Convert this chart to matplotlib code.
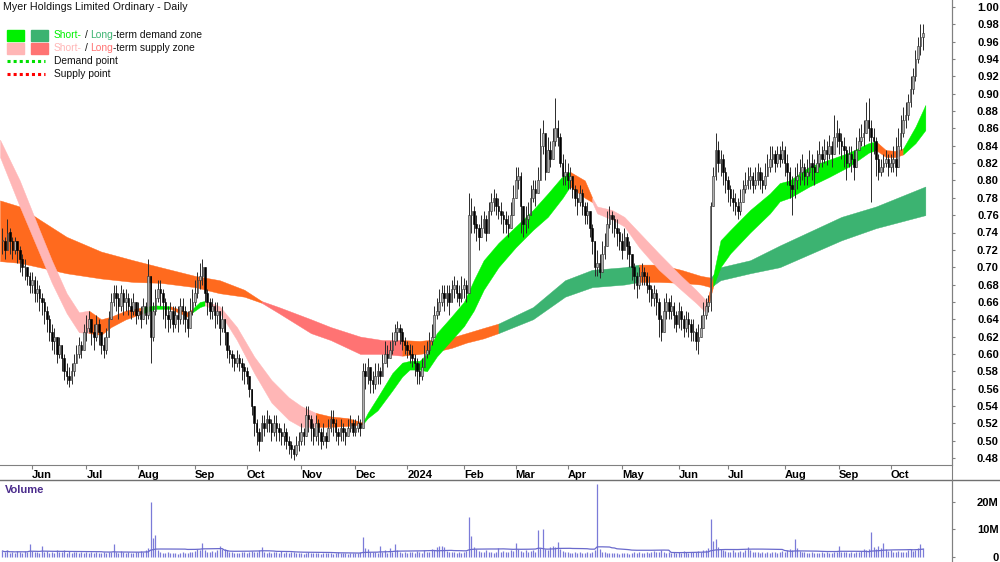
import numpy as np
import pandas as pd
import matplotlib
matplotlib.use("Agg")
import matplotlib.pyplot as plt
from matplotlib.lines import Line2D
from matplotlib.patches import Rectangle

# ---- daily prices (16 May 2023 .. 17 Oct 2024)
close = [
    0.730, 0.720, 0.740, 0.730, 0.720, 0.730, 0.720, 0.710, 0.700, 0.700,
    0.690, 0.680, 0.685, 0.670, 0.675, 0.665, 0.660, 0.650, 0.640, 0.625,
    0.615, 0.620, 0.600, 0.610, 0.595, 0.580, 0.575, 0.570, 0.580, 0.590,
    0.600, 0.610, 0.605, 0.625, 0.630, 0.640, 0.625, 0.620, 0.635, 0.625,
    0.610, 0.605, 0.620, 0.640, 0.660, 0.670, 0.665, 0.655, 0.670, 0.660,
    0.665, 0.655, 0.650, 0.660, 0.645, 0.650, 0.640, 0.655, 0.645, 0.690,
    0.620, 0.650, 0.665, 0.675, 0.670, 0.660, 0.645, 0.640, 0.650, 0.635,
    0.645, 0.640, 0.655, 0.650, 0.640, 0.630, 0.650, 0.660, 0.670, 0.685,
    0.690, 0.700, 0.670, 0.660, 0.650, 0.655, 0.645, 0.650, 0.630, 0.640,
    0.625, 0.605, 0.600, 0.595, 0.590, 0.595, 0.590, 0.585, 0.580, 0.575,
    0.560, 0.540, 0.520, 0.510, 0.500, 0.520, 0.515, 0.525, 0.520, 0.510,
    0.520, 0.515, 0.510, 0.505, 0.510, 0.500, 0.495, 0.490, 0.485, 0.495,
    0.500, 0.510, 0.505, 0.530, 0.525, 0.515, 0.505, 0.520, 0.510, 0.500,
    0.505, 0.500, 0.515, 0.525, 0.520, 0.510, 0.505, 0.515, 0.510, 0.505,
    0.515, 0.520, 0.510, 0.515, 0.520, 0.515, 0.580, 0.575, 0.585, 0.570,
    0.565, 0.575, 0.580, 0.575, 0.590, 0.600, 0.595, 0.605, 0.615, 0.625,
    0.630, 0.625, 0.615, 0.610, 0.605, 0.600, 0.595, 0.590, 0.580, 0.575,
    0.585, 0.600, 0.605, 0.615, 0.620, 0.645, 0.650, 0.660, 0.670, 0.665,
    0.670, 0.660, 0.675, 0.680, 0.670, 0.665, 0.675, 0.680, 0.670, 0.760,
    0.765, 0.750, 0.745, 0.735, 0.745, 0.755, 0.740, 0.765, 0.775, 0.780,
    0.770, 0.765, 0.760, 0.755, 0.750, 0.745, 0.760, 0.780, 0.800, 0.805,
    0.770, 0.750, 0.755, 0.760, 0.780, 0.790, 0.785, 0.800, 0.840, 0.855,
    0.810, 0.835, 0.825, 0.845, 0.860, 0.850, 0.820, 0.805, 0.810, 0.800,
    0.805, 0.790, 0.780, 0.775, 0.785, 0.770, 0.760, 0.765, 0.745, 0.730,
    0.700, 0.705, 0.695, 0.715, 0.725, 0.750, 0.760, 0.755, 0.745, 0.740,
    0.730, 0.720, 0.735, 0.725, 0.715, 0.700, 0.690, 0.680, 0.690, 0.695,
    0.690, 0.680, 0.675, 0.665, 0.670, 0.660, 0.640, 0.625, 0.650, 0.660,
    0.650, 0.655, 0.645, 0.635, 0.650, 0.640, 0.630, 0.640, 0.635, 0.625,
    0.625, 0.615, 0.620, 0.630, 0.645, 0.655, 0.660, 0.770, 0.805, 0.835,
    0.820, 0.825, 0.810, 0.800, 0.790, 0.780, 0.775, 0.770, 0.765, 0.775,
    0.790, 0.795, 0.800, 0.805, 0.795, 0.800, 0.810, 0.800, 0.795, 0.805,
    0.815, 0.825, 0.830, 0.820, 0.830, 0.825, 0.835, 0.820, 0.810, 0.795,
    0.790, 0.800, 0.805, 0.810, 0.815, 0.805, 0.810, 0.820, 0.815, 0.810,
    0.820, 0.830, 0.825, 0.835, 0.830, 0.840, 0.830, 0.850, 0.855, 0.845,
    0.840, 0.835, 0.820, 0.830, 0.825, 0.815, 0.835, 0.845, 0.850, 0.855,
    0.870, 0.860, 0.850, 0.845, 0.825, 0.810, 0.815, 0.820, 0.825, 0.815,
    0.820, 0.825, 0.815, 0.840, 0.855, 0.870, 0.875, 0.890, 0.905, 0.920,
    0.940, 0.955, 0.965, 0.970,
]
high = [
    0.745, 0.735, 0.755, 0.745, 0.735, 0.735, 0.730, 0.725, 0.715, 0.710,
    0.700, 0.695, 0.695, 0.690, 0.685, 0.680, 0.670, 0.665, 0.655, 0.645,
    0.635, 0.630, 0.620, 0.620, 0.610, 0.600, 0.590, 0.585, 0.590, 0.600,
    0.610, 0.620, 0.615, 0.635, 0.645, 0.650, 0.640, 0.635, 0.645, 0.640,
    0.625, 0.620, 0.630, 0.650, 0.670, 0.680, 0.680, 0.670, 0.680, 0.675,
    0.675, 0.670, 0.665, 0.670, 0.660, 0.660, 0.655, 0.665, 0.660, 0.710,
    0.665, 0.660, 0.675, 0.685, 0.685, 0.675, 0.665, 0.655, 0.660, 0.655,
    0.655, 0.655, 0.665, 0.665, 0.655, 0.650, 0.665, 0.675, 0.685, 0.695,
    0.705, 0.710, 0.700, 0.675, 0.665, 0.665, 0.660, 0.660, 0.650, 0.655,
    0.640, 0.625, 0.610, 0.605, 0.600, 0.605, 0.600, 0.595, 0.590, 0.585,
    0.575, 0.560, 0.540, 0.525, 0.515, 0.530, 0.530, 0.535, 0.530, 0.525,
    0.530, 0.530, 0.520, 0.515, 0.520, 0.515, 0.505, 0.500, 0.495, 0.505,
    0.510, 0.520, 0.515, 0.540, 0.540, 0.530, 0.520, 0.530, 0.525, 0.515,
    0.520, 0.510, 0.525, 0.535, 0.535, 0.525, 0.515, 0.525, 0.520, 0.515,
    0.525, 0.530, 0.525, 0.525, 0.530, 0.525, 0.590, 0.590, 0.595, 0.585,
    0.580, 0.590, 0.590, 0.585, 0.600, 0.615, 0.610, 0.615, 0.625, 0.635,
    0.638, 0.635, 0.630, 0.620, 0.615, 0.612, 0.610, 0.600, 0.595, 0.590,
    0.595, 0.610, 0.615, 0.625, 0.635, 0.655, 0.665, 0.675, 0.680, 0.680,
    0.680, 0.680, 0.685, 0.690, 0.685, 0.680, 0.690, 0.688, 0.685, 0.785,
    0.780, 0.770, 0.760, 0.750, 0.760, 0.765, 0.760, 0.775, 0.785, 0.790,
    0.785, 0.780, 0.775, 0.765, 0.765, 0.760, 0.775, 0.795, 0.815, 0.815,
    0.810, 0.770, 0.770, 0.775, 0.795, 0.800, 0.800, 0.815, 0.860, 0.870,
    0.845, 0.850, 0.845, 0.860, 0.895, 0.870, 0.855, 0.830, 0.825, 0.820,
    0.815, 0.805, 0.795, 0.790, 0.795, 0.790, 0.775, 0.775, 0.765, 0.750,
    0.720, 0.720, 0.715, 0.730, 0.740, 0.765, 0.770, 0.765, 0.760, 0.755,
    0.745, 0.740, 0.745, 0.740, 0.730, 0.715, 0.705, 0.695, 0.700, 0.705,
    0.700, 0.695, 0.690, 0.680, 0.680, 0.675, 0.665, 0.645, 0.665, 0.670,
    0.665, 0.668, 0.660, 0.650, 0.660, 0.655, 0.645, 0.650, 0.648, 0.640,
    0.640, 0.630, 0.635, 0.645, 0.660, 0.665, 0.668, 0.775, 0.815, 0.855,
    0.845, 0.835, 0.830, 0.815, 0.805, 0.795, 0.790, 0.785, 0.780, 0.790,
    0.800, 0.810, 0.815, 0.815, 0.810, 0.815, 0.820, 0.815, 0.810, 0.820,
    0.830, 0.840, 0.840, 0.835, 0.840, 0.840, 0.845, 0.840, 0.830, 0.815,
    0.805, 0.815, 0.820, 0.825, 0.830, 0.820, 0.825, 0.835, 0.830, 0.825,
    0.835, 0.845, 0.840, 0.848, 0.845, 0.852, 0.845, 0.875, 0.870, 0.860,
    0.855, 0.850, 0.840, 0.840, 0.840, 0.835, 0.850, 0.860, 0.865, 0.870,
    0.890, 0.895, 0.870, 0.860, 0.850, 0.830, 0.825, 0.830, 0.835, 0.830,
    0.830, 0.840, 0.850, 0.860, 0.875, 0.885, 0.890, 0.900, 0.920, 0.930,
    0.950, 0.965, 0.980, 0.980,
]
low = [
    0.715, 0.710, 0.720, 0.715, 0.710, 0.715, 0.705, 0.695, 0.690, 0.685,
    0.680, 0.670, 0.670, 0.660, 0.660, 0.650, 0.645, 0.635, 0.625, 0.615,
    0.605, 0.600, 0.590, 0.595, 0.580, 0.570, 0.565, 0.562, 0.565, 0.575,
    0.590, 0.595, 0.595, 0.605, 0.615, 0.625, 0.610, 0.605, 0.615, 0.610,
    0.600, 0.595, 0.600, 0.625, 0.640, 0.655, 0.650, 0.640, 0.650, 0.645,
    0.650, 0.645, 0.640, 0.645, 0.635, 0.640, 0.630, 0.640, 0.635, 0.640,
    0.590, 0.615, 0.645, 0.660, 0.655, 0.640, 0.630, 0.625, 0.630, 0.625,
    0.630, 0.625, 0.635, 0.635, 0.625, 0.620, 0.630, 0.645, 0.655, 0.665,
    0.675, 0.680, 0.660, 0.645, 0.640, 0.640, 0.630, 0.635, 0.610, 0.625,
    0.610, 0.595, 0.590, 0.585, 0.580, 0.585, 0.580, 0.570, 0.565, 0.565,
    0.550, 0.530, 0.505, 0.495, 0.488, 0.500, 0.505, 0.510, 0.510, 0.500,
    0.505, 0.500, 0.500, 0.495, 0.495, 0.490, 0.485, 0.480, 0.478, 0.482,
    0.488, 0.495, 0.495, 0.505, 0.510, 0.500, 0.495, 0.500, 0.495, 0.490,
    0.495, 0.492, 0.500, 0.510, 0.505, 0.500, 0.495, 0.500, 0.500, 0.495,
    0.505, 0.510, 0.505, 0.505, 0.510, 0.505, 0.515, 0.560, 0.565, 0.555,
    0.555, 0.560, 0.565, 0.565, 0.575, 0.590, 0.585, 0.595, 0.600, 0.610,
    0.615, 0.612, 0.605, 0.600, 0.595, 0.590, 0.585, 0.575, 0.565, 0.565,
    0.570, 0.585, 0.595, 0.600, 0.610, 0.630, 0.640, 0.645, 0.655, 0.650,
    0.655, 0.645, 0.660, 0.665, 0.660, 0.655, 0.660, 0.665, 0.660, 0.670,
    0.740, 0.740, 0.730, 0.720, 0.735, 0.740, 0.730, 0.745, 0.760, 0.765,
    0.760, 0.755, 0.750, 0.740, 0.740, 0.735, 0.745, 0.765, 0.780, 0.790,
    0.740, 0.735, 0.740, 0.745, 0.760, 0.775, 0.770, 0.785, 0.800, 0.830,
    0.800, 0.810, 0.815, 0.825, 0.840, 0.840, 0.815, 0.795, 0.795, 0.790,
    0.790, 0.780, 0.770, 0.760, 0.770, 0.760, 0.750, 0.750, 0.735, 0.715,
    0.690, 0.690, 0.688, 0.695, 0.710, 0.725, 0.745, 0.740, 0.735, 0.725,
    0.720, 0.710, 0.720, 0.710, 0.700, 0.685, 0.675, 0.665, 0.675, 0.680,
    0.680, 0.670, 0.660, 0.655, 0.655, 0.645, 0.620, 0.615, 0.625, 0.640,
    0.640, 0.640, 0.630, 0.625, 0.630, 0.628, 0.620, 0.625, 0.620, 0.615,
    0.615, 0.605, 0.600, 0.620, 0.630, 0.640, 0.648, 0.650, 0.770, 0.800,
    0.810, 0.805, 0.795, 0.785, 0.775, 0.770, 0.765, 0.760, 0.755, 0.760,
    0.775, 0.785, 0.790, 0.790, 0.785, 0.790, 0.795, 0.790, 0.785, 0.790,
    0.805, 0.810, 0.815, 0.810, 0.815, 0.815, 0.820, 0.805, 0.795, 0.780,
    0.760, 0.780, 0.790, 0.795, 0.800, 0.795, 0.795, 0.805, 0.800, 0.795,
    0.810, 0.815, 0.815, 0.820, 0.818, 0.825, 0.815, 0.830, 0.838, 0.830,
    0.825, 0.815, 0.800, 0.815, 0.810, 0.800, 0.820, 0.835, 0.840, 0.840,
    0.855, 0.845, 0.775, 0.830, 0.805, 0.800, 0.805, 0.810, 0.815, 0.805,
    0.810, 0.810, 0.805, 0.815, 0.835, 0.850, 0.860, 0.870, 0.885, 0.900,
    0.915, 0.935, 0.945, 0.950,
]
# volume in millions
volume = [
    2.0, 1.5, 2.2, 1.2, 1.8, 1.4, 2.0, 1.6, 1.3, 2.1,
    1.7, 4.4, 2.0, 1.5, 1.8, 1.2, 3.7, 1.6, 2.0, 1.4,
    1.8, 1.3, 2.2, 1.5, 1.7, 2.4, 1.2, 1.9, 1.4, 1.6,
    1.5, 1.2, 1.8, 1.4, 1.6, 1.3, 1.7, 1.2, 1.5, 1.1,
    1.4, 1.6, 1.2, 1.5, 1.8, 4.4, 1.6, 1.3, 2.0, 1.5,
    1.3, 1.6, 1.4, 1.2, 1.8, 1.5, 2.0, 1.7, 2.4, 3.0,
    20.0, 6.7, 8.0, 2.5, 1.8, 1.4, 1.2, 1.5, 1.1, 1.3,
    1.2, 1.0, 1.4, 1.6, 1.3, 1.1, 1.5, 1.8, 2.0, 2.6,
    2.4, 5.0, 2.2, 1.8, 1.6, 2.0, 1.5, 2.5, 4.0, 2.8,
    2.6, 2.2, 1.7, 1.5, 1.3, 1.4, 1.2, 1.5, 1.7, 1.4,
    1.6, 2.0, 1.8, 1.5, 2.2, 3.3, 1.6, 1.4, 1.8, 1.2,
    1.5, 1.7, 1.3, 1.9, 1.4, 1.6, 1.2, 1.8, 1.5, 1.3,
    1.4, 1.2, 1.0, 1.3, 1.5, 1.2, 1.4, 1.1, 1.3, 1.0,
    1.2, 1.4, 1.1, 1.3, 1.0, 1.2, 1.5, 1.3, 1.1, 1.2,
    1.0, 1.3, 1.2, 1.1, 1.4, 1.5, 7.0, 3.0, 2.8, 1.6,
    1.5, 1.8, 1.4, 4.0, 1.6, 2.5, 1.4, 3.0, 1.8, 4.5,
    2.2, 1.7, 1.3, 1.6, 1.2, 1.5, 1.8, 1.3, 1.9, 1.6,
    1.4, 2.2, 1.5, 1.8, 2.6, 2.4, 3.6, 4.0, 3.8, 3.5,
    2.0, 1.6, 1.5, 1.8, 1.3, 1.5, 1.4, 1.7, 2.0, 14.5,
    7.6, 3.5, 2.6, 2.0, 1.8, 1.6, 2.2, 1.7, 1.5, 1.4,
    1.6, 3.0, 1.8, 2.0, 1.5, 1.7, 2.4, 2.0, 5.0, 2.8,
    1.9, 1.6, 2.2, 1.8, 2.0, 2.4, 1.7, 9.8, 3.2, 10.0,
    2.8, 2.4, 3.5, 3.8, 3.5, 5.3, 2.6, 2.0, 1.8, 1.6,
    1.4, 1.3, 1.6, 1.2, 1.5, 1.3, 1.2, 1.6, 1.4, 1.8,
    2.2, 26.5, 2.6, 1.8, 1.5, 1.3, 1.2, 1.4, 1.1, 1.3,
    1.0, 1.2, 1.1, 1.4, 1.0, 1.2, 1.5, 1.3, 1.6, 1.2,
    1.4, 1.8, 1.3, 1.6, 2.0, 1.5, 1.8, 2.2, 1.6, 1.4,
    1.5, 1.3, 1.7, 1.2, 1.5, 1.4, 2.0, 1.6, 1.3, 1.8,
    1.5, 1.7, 2.0, 1.6, 2.2, 2.5, 3.0, 13.5, 5.5, 6.5,
    3.5, 2.8, 2.4, 2.0, 1.8, 1.6, 2.2, 1.7, 1.5, 2.0,
    1.8, 2.4, 3.3, 2.2, 1.8, 1.6, 1.5, 1.3, 1.7, 1.4,
    1.6, 1.3, 1.5, 1.8, 1.4, 1.6, 2.0, 1.7, 2.2, 2.6,
    2.4, 6.2, 3.0, 2.0, 1.6, 1.8, 1.4, 1.3, 1.5, 1.2,
    1.4, 1.2, 1.5, 1.3, 1.6, 1.4, 1.2, 1.8, 1.5, 4.0,
    1.8, 1.5, 1.7, 1.4, 1.6, 1.3, 1.5, 1.8, 2.0, 2.6,
    2.2, 2.8, 9.0, 3.5, 2.6, 4.0, 3.0, 5.0, 2.6, 2.0,
    2.4, 1.8, 1.6, 2.0, 1.8, 1.5, 1.7, 2.2, 2.6, 2.0,
    2.4, 3.0, 4.5, 3.2,
]

# ---- zones (keypoints: bar index, upper edge, lower edge)
short_idx = [-1, 7, 15, 20, 26, 31, 35, 40, 44, 50, 57, 62, 68, 75, 77, 80, 82, 88, 95, 102,
             109, 116, 121, 127, 133, 140, 146, 148, 152, 158, 162, 165, 169, 172, 176, 181,
             187, 191, 195, 201, 208, 215, 221, 227, 230, 236, 239, 241, 247, 252, 258, 266,
             275, 281, 285, 286, 288, 291, 295, 303, 311, 315, 319, 327, 335, 343, 351, 354,
             358, 362, 365, 370, 374]
short_top = [0.847, 0.800, 0.743, 0.708, 0.670, 0.648, 0.650, 0.640, 0.643, 0.650, 0.654, 0.656,
             0.655, 0.648, 0.652, 0.660, 0.661, 0.655, 0.631, 0.597, 0.570, 0.550, 0.540, 0.532,
             0.528, 0.526, 0.521, 0.532, 0.550, 0.578, 0.590, 0.592, 0.592, 0.600, 0.624, 0.640,
             0.660, 0.685, 0.708, 0.728, 0.747, 0.766, 0.785, 0.805, 0.810, 0.800, 0.780, 0.770,
             0.766, 0.758, 0.740, 0.716, 0.690, 0.674, 0.662, 0.666, 0.690, 0.731, 0.743, 0.766,
             0.785, 0.797, 0.800, 0.816, 0.824, 0.832, 0.843, 0.845, 0.835, 0.834, 0.837, 0.862,
             0.887]
short_bot = [0.827, 0.770, 0.716, 0.682, 0.647, 0.625, 0.624, 0.622, 0.631, 0.640, 0.647, 0.652,
             0.652, 0.643, 0.648, 0.654, 0.656, 0.648, 0.616, 0.578, 0.544, 0.524, 0.516, 0.516,
             0.516, 0.517, 0.519, 0.526, 0.535, 0.558, 0.574, 0.582, 0.582, 0.580, 0.597, 0.613,
             0.632, 0.650, 0.674, 0.700, 0.723, 0.743, 0.758, 0.780, 0.793, 0.780, 0.775, 0.762,
             0.755, 0.747, 0.723, 0.697, 0.674, 0.659, 0.648, 0.656, 0.678, 0.700, 0.716, 0.740,
             0.762, 0.776, 0.780, 0.793, 0.804, 0.816, 0.832, 0.835, 0.827, 0.827, 0.830, 0.843,
             0.858]
short_state = [(-1, 35, "ss"), (35, 57, "mix"), (57, 68, "sd"), (68, 77, "mix"), (77, 82, "sd"),
               (82, 127, "ss"), (127, 146, "mix"), (146, 230, "sd"), (230, 239, "mix"),
               (239, 286, "ss"), (286, 288, "mix"), (288, 354, "sd"), (354, 365, "mix"),
               (365, 374, "sd")]

long_idx = [-1, 7, 15, 26, 40, 53, 64, 78, 88, 98, 105, 112, 125, 133, 145, 154, 162, 169, 176,
            182, 188, 195, 201, 215, 228, 239, 252, 258, 266, 275, 283, 287, 291, 303, 315, 340,
            354, 374]
long_top = [0.777, 0.770, 0.755, 0.735, 0.718, 0.708, 0.700, 0.690, 0.685, 0.674, 0.661, 0.654,
            0.640, 0.631, 0.620, 0.616, 0.616, 0.615, 0.617, 0.619, 0.624, 0.630, 0.635, 0.654,
            0.685, 0.697, 0.700, 0.703, 0.703, 0.697, 0.690, 0.688, 0.700, 0.708, 0.725, 0.758,
            0.770, 0.793]
long_bot = [0.707, 0.705, 0.700, 0.693, 0.687, 0.683, 0.682, 0.677, 0.670, 0.666, 0.659, 0.647,
            0.624, 0.616, 0.600, 0.600, 0.598, 0.600, 0.603, 0.607, 0.613, 0.618, 0.624, 0.640,
            0.666, 0.677, 0.680, 0.683, 0.683, 0.682, 0.680, 0.677, 0.685, 0.693, 0.700, 0.731,
            0.745, 0.760]
long_state = [(-1, 105, "mix"), (105, 162, "ls"), (162, 201, "mix"), (201, 258, "ld"),
              (258, 287, "mix"), (287, 374, "ld")]

price_ticks = np.round(np.arange(0.48, 1.001, 0.02), 2)
vol_ticks = [0, 10, 20]
vol_labels = ["0", "10M", "20M"]

COL = {"sd": "#00f000", "ld": "#3cb371", "ss": "#ffb6b6", "ls": "#ff7373", "mix": "#ff6a1e"}

W, H = 1000, 562
plt.rcParams["font.family"] = ["Liberation Sans", "DejaVu Sans"]

fig = plt.figure(figsize=(W / 100, H / 100), dpi=100)
ax = fig.add_axes([0, 1 - 465 / H, 952 / W, 465 / H])
axv = fig.add_axes([0, 0, 952 / W, 81 / H])

close = np.array(close)
high = np.array(high)
low = np.array(low)
volume = np.array(volume)
x = np.arange(len(close))
dates = pd.bdate_range("2023-05-16", periods=len(close))
opn = np.r_[close[0], close[:-1]]


def draw_zone(idx, top, bot, states, z):
    idx, top, bot = np.array(idx), np.array(top), np.array(bot)
    for a, b, key in states:
        m = (idx >= a) & (idx <= b)
        ax.fill_between(idx[m], bot[m], top[m], color=COL[key], lw=0.3,
                        edgecolor=COL[key], zorder=z)


draw_zone(long_idx, long_top, long_bot, long_state, 1)
draw_zone(short_idx, short_top, short_bot, short_state, 2)

# candles
b_lo = np.minimum(opn, close)
b_hi = np.maximum(opn, close)
up = close >= opn
ax.vlines(x, np.minimum(low, b_lo), np.maximum(high, b_hi), color="#2a2a2a", lw=0.7, zorder=3)
hgt = np.maximum(b_hi - b_lo, 0.0015)
ax.bar(x[up], hgt[up], bottom=b_lo[up], width=0.65, color="#b0b0b0",
       edgecolor="#2a2a2a", lw=0.4, zorder=4)
ax.bar(x[~up], hgt[~up], bottom=b_lo[~up], width=0.65, color="black",
       edgecolor="black", lw=0.4, zorder=4)

xlim = (-1, 384.8)
ax.set_xlim(*xlim)
ax.set_ylim(0.472, 1.008)

# month ticks
firsts = pd.Series(x, index=dates).groupby([dates.year, dates.month]).first()
mt_pos, mt_lab = [], []
for (yy, mm), i in firsts.items():
    if i == 0:
        continue
    mt_pos.append(i)
    mt_lab.append(str(yy) if mm == 1 else pd.Timestamp(yy, mm, 1).strftime("%b"))
ax.set_xticks(mt_pos)
ax.set_xticklabels(mt_lab, fontsize=8, fontweight="bold", ha="left")
ax.tick_params(axis="x", direction="out", length=3, color="#808080", pad=0.5)

ax.yaxis.tick_right()
ax.set_yticks(price_ticks)
ax.set_yticklabels([f"{v:.2f}" for v in price_ticks], fontsize=8, fontweight="bold", ha="right")
ax.tick_params(axis="y", direction="out", length=2.2, color="#808080", pad=31.5)
for s in ["top", "left"]:
    ax.spines[s].set_visible(False)
for s in ["right", "bottom"]:
    ax.spines[s].set_color("#808080")

# volume
axv.vlines(x, 0, volume, color="#7b7bd8", lw=0.9)
ma = pd.Series(volume).rolling(30, min_periods=1).mean()
axv.plot(x, ma, color="#6a6acc", lw=0.9)
axv.set_xlim(*xlim)
axv.set_ylim(-2.0, 27.5)
axv.set_xticks([])
axv.yaxis.tick_right()
axv.set_yticks(vol_ticks)
axv.set_yticklabels(vol_labels, fontsize=8, fontweight="bold", ha="right")
axv.tick_params(axis="y", direction="out", length=2.2, color="#808080", pad=31.5)
for s in ["top", "left", "bottom"]:
    axv.spines[s].set_visible(False)
axv.spines["right"].set_color("#808080")

fig.add_artist(Line2D([0, 1], [1 - 480 / H] * 2, color="#707070", lw=1.0))
fig.add_artist(Line2D([952 / W] * 2, [0, 1], color="#808080", lw=0.8))

fig.text(5 / W, 1 - 490 / H, "Volume", color="#4b2c8c", fontsize=8, fontweight="bold", va="center")

# title + legend
fig.text(3 / W, 1 - 7 / H, "Myer Holdings Limited Ordinary - Daily", fontsize=7.7, va="center",
         color="#111111")

for (x0, key) in [(7, "sd"), (31, "ld")]:
    fig.add_artist(Rectangle((x0 / W, 1 - 41 / H), 17 / W, 11 / H, color=COL[key]))
for (x0, key) in [(7, "ss"), (31, "ls")]:
    fig.add_artist(Rectangle((x0 / W, 1 - 54 / H), 17 / W, 11 / H, color=COL[key]))
fig.add_artist(Line2D([7 / W, 45 / W], [1 - 61 / H] * 2, color="#00e000", lw=2.2, ls=(0, (1, 1))))
fig.add_artist(Line2D([7 / W, 45 / W], [1 - 74 / H] * 2, color="#ff0000", lw=2.2, ls=(0, (1, 1))))

rend = fig.canvas.get_renderer()
LEG_SIZE = 7.4


def text_w(s, size):
    t = fig.text(0, 0, s, fontsize=size)
    w = t.get_window_extent(renderer=rend).width
    t.remove()
    return w


def multicolor(x0, y, pieces, size=LEG_SIZE):
    full = "".join(s for s, c in pieces)
    pos = 0
    for s, c in pieces:
        st = s.lstrip()
        k = pos + len(s) - len(st)
        xx = x0 + (text_w(full[:k + 1], size) - text_w(full[k], size) if k else 0)
        fig.text(xx / W, 1 - y / H, st.rstrip(), color=c, fontsize=size, va="center")
        pos += len(s)


multicolor(54, 35, [("Short-", COL["sd"]), (" / ", "#111111"), ("Long", COL["ld"]),
                    ("-term demand zone", "#111111")])
multicolor(54, 48, [("Short-", COL["ss"]), (" / ", "#111111"), ("Long", COL["ls"]),
                    ("-term supply zone", "#111111")])
fig.text(54 / W, 1 - 61 / H, "Demand point", fontsize=LEG_SIZE, va="center", color="#111111")
fig.text(54 / W, 1 - 74 / H, "Supply point", fontsize=LEG_SIZE, va="center", color="#111111")

fig.savefig("out.png", dpi=100)
